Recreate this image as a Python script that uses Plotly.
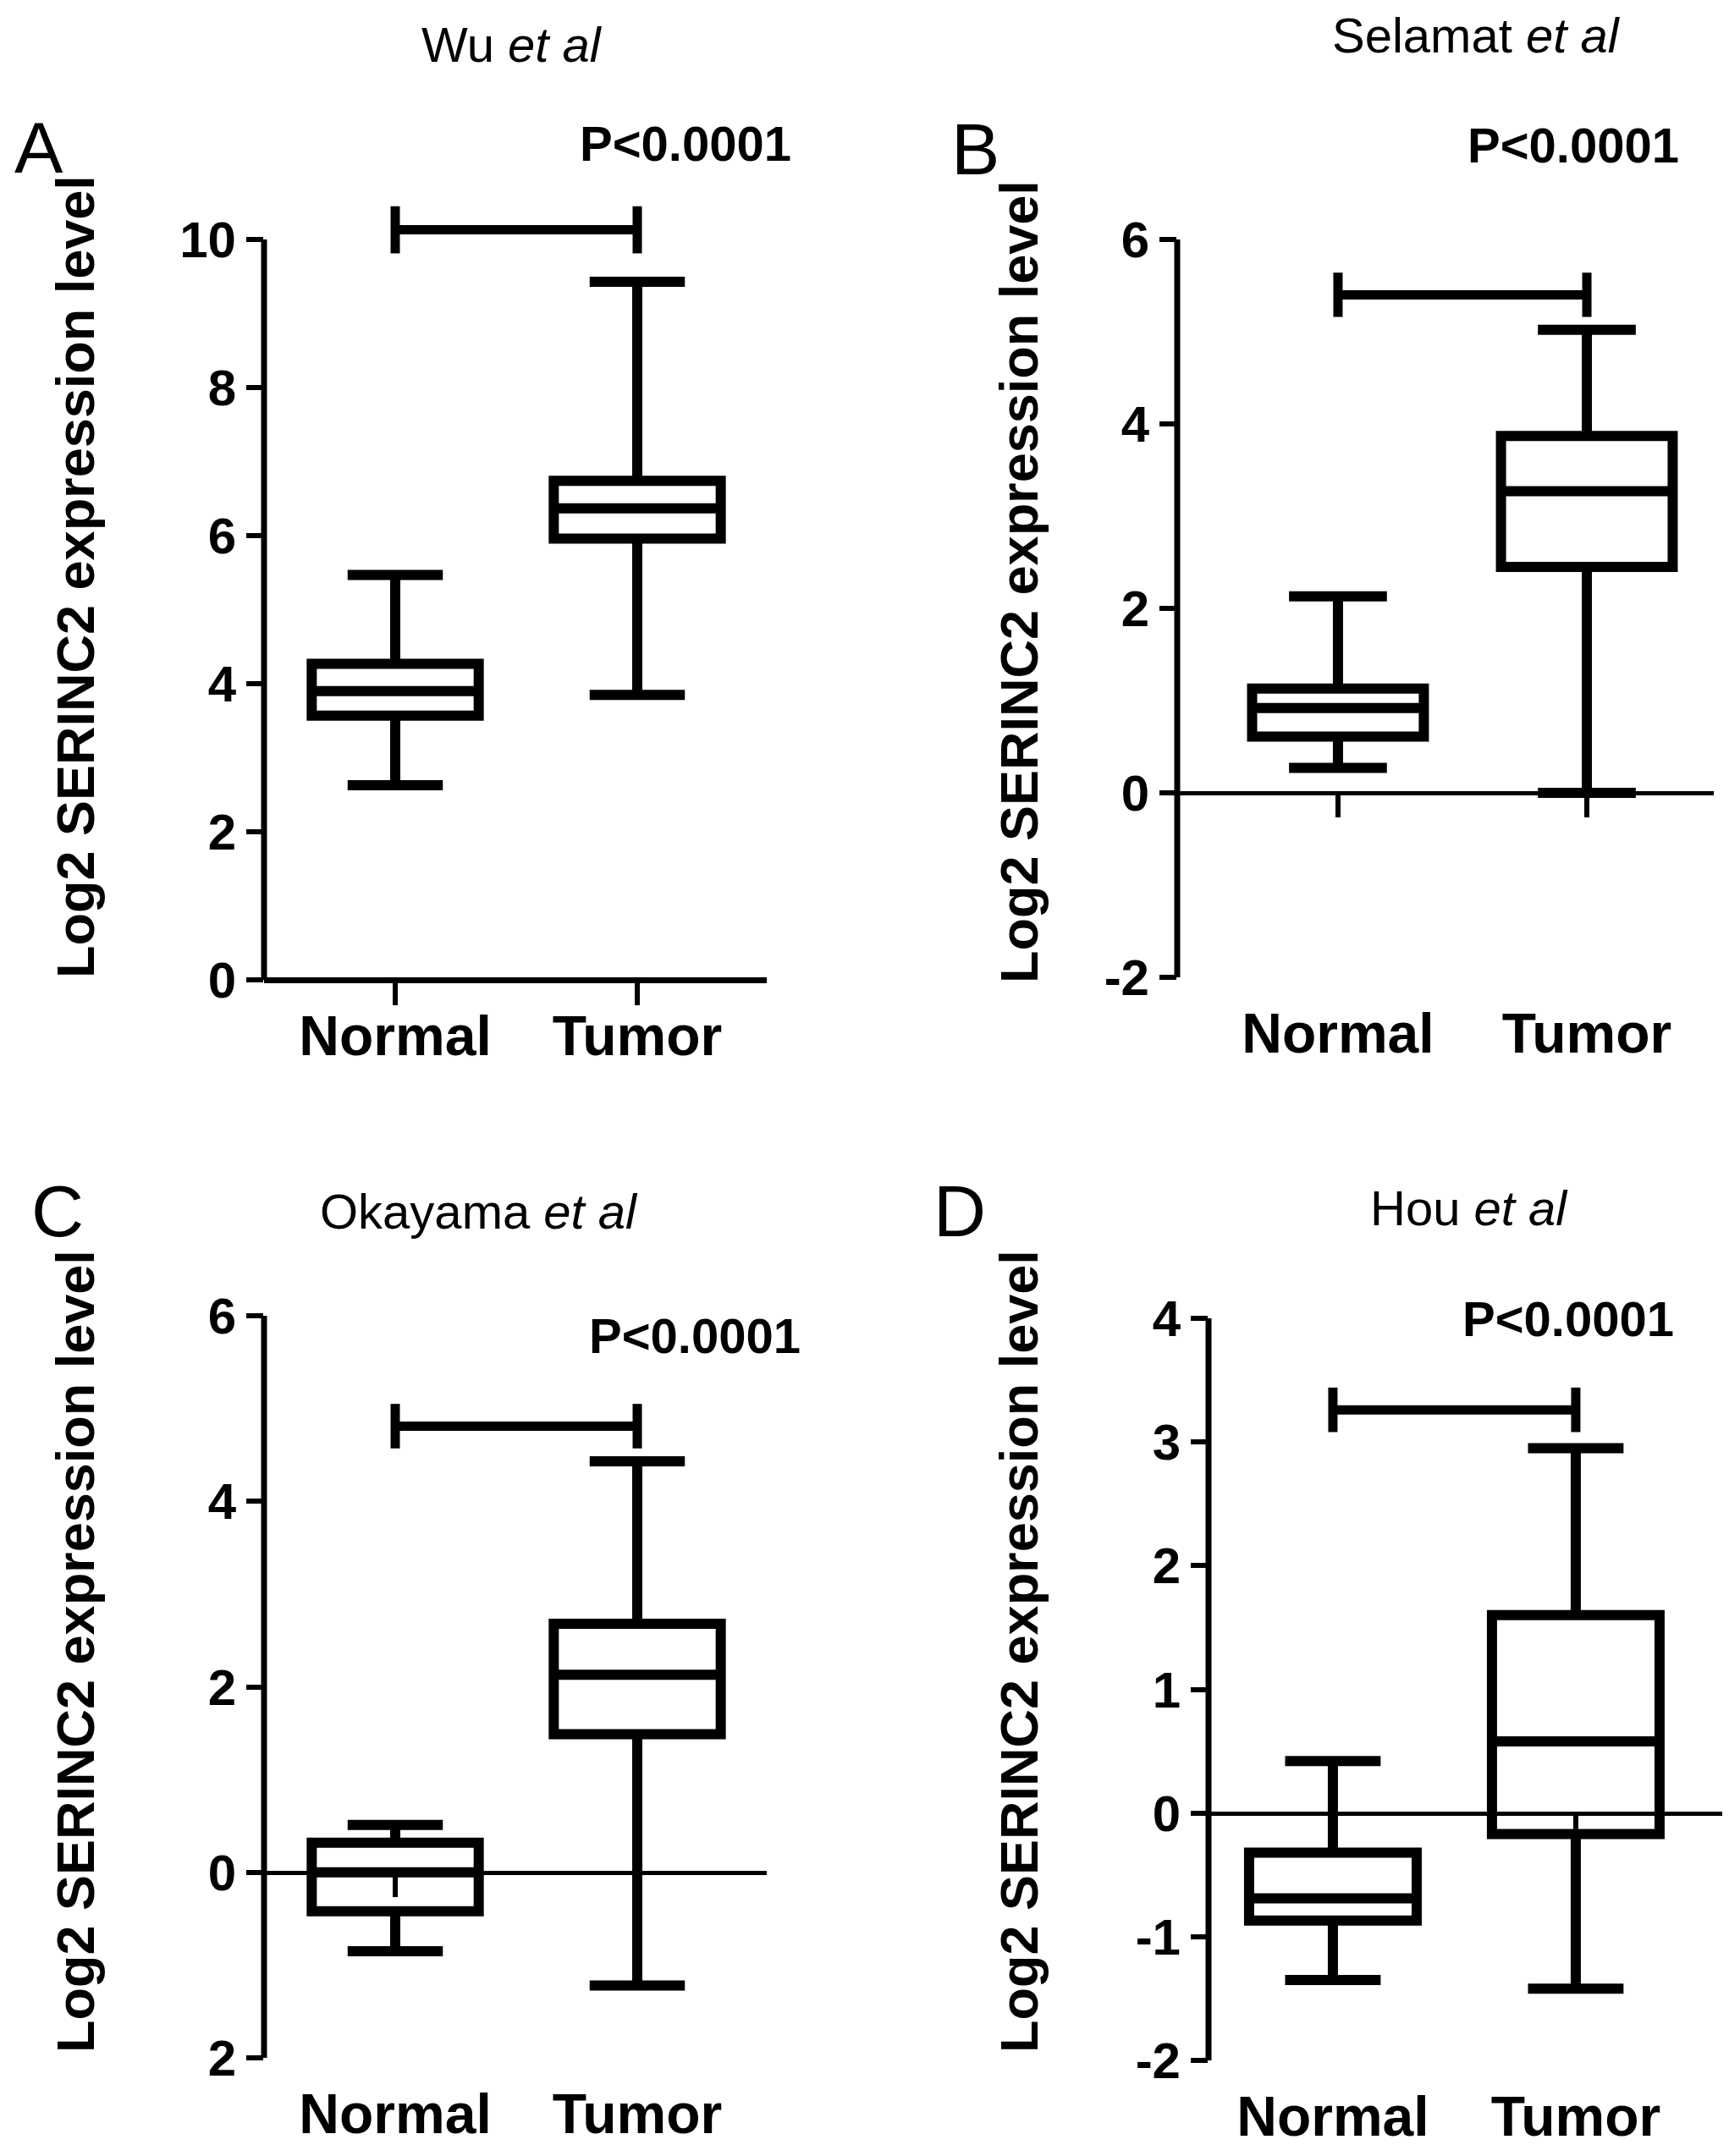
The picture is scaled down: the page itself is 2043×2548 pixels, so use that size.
import plotly.graph_objs as go

FONT = 'Arial, Liberation Sans, sans-serif'
W, H = 2043, 2548
OFF = 8   # page body margin, positions below are measured on the reference

groups = ['Normal', 'Tumor']

# A - Wu et al
a_low = [2.63, 3.85]
a_q1 = [3.57, 5.96]
a_med = [3.90, 6.37]
a_q3 = [4.27, 6.74]
a_high = [5.47, 9.43]
a_sig = 10.13
a_ticks = [0, 2, 4, 6, 8, 10]
a_ticktext = ['0', '2', '4', '6', '8', '10']

# B - Selamat et al
b_low = [0.27, 0.0]
b_q1 = [0.61, 2.45]
b_med = [0.92, 3.27]
b_q3 = [1.13, 3.87]
b_high = [2.13, 5.02]
b_sig = 5.40
b_ticks = [-2, 0, 2, 4, 6]
b_ticktext = ['-2', '0', '2', '4', '6']

# C - Okayama et al
c_low = [-0.85, -1.22]
c_q1 = [-0.42, 1.49]
c_med = [0.0, 2.13]
c_q3 = [0.32, 2.68]
c_high = [0.51, 4.43]
c_sig = 4.81
c_ticks = [-2, 0, 2, 4, 6]
c_ticktext = ['2', '0', '2', '4', '6']   # minus sign missing in the original

# D - Hou et al
d_low = [-1.35, -1.42]
d_q1 = [-0.87, -0.17]
d_med = [-0.69, 0.58]
d_q3 = [-0.32, 1.60]
d_high = [0.42, 2.95]
d_sig = 3.26
d_ticks = [-2, -1, 0, 1, 2, 3, 4]
d_ticktext = ['-2', '-1', '0', '1', '2', '3', '4']

letters = ['A', 'B', 'C', 'D']
titles = ['Wu <i>et al</i>', 'Selamat <i>et al</i>', 'Okayama <i>et al</i>', 'Hou <i>et al</i>']
pvals = ['P<0.0001'] * 4
ylabel = 'Log2 SERINC2 expression level'

panels = [
    dict(low=a_low, q1=a_q1, med=a_med, q3=a_q3, high=a_high, sig=a_sig, ticks=a_ticks, ticktext=a_ticktext,
         yrange=[0, 10.6], xrange=[-0.542, 1.535], xdom=[312, 906], ydom=[1158, 230.5], zw=7,
         letter=(46, 174), title=(605, 52), p=(810, 169), ylab=(89, 682)),
    dict(low=b_low, q1=b_q1, med=b_med, q3=b_q3, high=b_high, sig=b_sig, ticks=b_ticks, ticktext=b_ticktext,
         yrange=[-2, 6], xrange=[-0.646, 1.51], xdom=[1391, 2025], ydom=[1155, 283], zw=5,
         letter=(1152, 176), title=(1744, 41), p=(1859, 172), ylab=(1204, 688)),
    dict(low=c_low, q1=c_q1, med=c_med, q3=c_q3, high=c_high, sig=c_sig, ticks=c_ticks, ticktext=c_ticktext,
         yrange=[-2, 6], xrange=[-0.542, 1.535], xdom=[312, 906], ydom=[2432, 1555], zw=5,
         letter=(68, 1431), title=(566, 1431), p=(821, 1578), ylab=(89, 1952)),
    dict(low=d_low, q1=d_q1, med=d_med, q3=d_q3, high=d_high, sig=d_sig, ticks=d_ticks, ticktext=d_ticktext,
         yrange=[-2, 4], xrange=[-0.512, 1.61], xdom=[1428, 2037], ydom=[2435, 1558], zw=5,
         letter=(1134, 1431), title=(1736, 1427), p=(1853, 1558), ylab=(1204, 1952)),
]


def px(v):
    return (v - OFF) / W


def py(v):
    return 1 - (v - OFF) / H


data = []
layout = go.Layout(width=W, height=H, margin=dict(l=0, r=0, t=0, b=0, pad=0),
                   plot_bgcolor='white', paper_bgcolor='white', showlegend=False)
annotations = []
shapes = []


def note(text, pos, size, angle=0):
    return dict(text=text, x=px(pos[0]), y=py(pos[1]), xref='paper', yref='paper',
                xanchor='center', yanchor='middle', showarrow=False, textangle=angle,
                font=dict(family=FONT, size=size, color='black'))


for i, pn in enumerate(panels):
    n = i + 1
    xa = 'x' if n == 1 else 'x%d' % n
    ya = 'y' if n == 1 else 'y%d' % n
    za = 'x%d' % (n + 4)
    xdom = [px(pn['xdom'][0]), px(pn['xdom'][1])]
    ydom = [py(pn['ydom'][0]), py(pn['ydom'][1])]
    r0, r1 = pn['yrange']
    zero_pos = ydom[0] + (0 - r0) / (r1 - r0) * (ydom[1] - ydom[0])

    data.append(go.Box(x=groups, q1=pn['q1'], median=pn['med'], q3=pn['q3'],
                       lowerfence=pn['low'], upperfence=pn['high'],
                       xaxis=xa, yaxis=ya, line=dict(color='black', width=12), fillcolor='white',
                       width=0.69, whiskerwidth=0.57, boxpoints=False, hoverinfo='skip'))
    # significance bracket
    cap = 0.03 * (r1 - r0)
    s = pn['sig']
    data.append(go.Scatter(x=[groups[0], groups[0], None, groups[0], groups[1], None, groups[1], groups[1]],
                           y=[s - cap, s + cap, None, s, s, None, s - cap, s + cap],
                           mode='lines', line=dict(color='black', width=11),
                           xaxis=xa, yaxis=ya, hoverinfo='skip'))
    # invisible trace so the zero-line axis is drawn
    data.append(go.Scatter(x=groups, y=[0, 0], mode='markers', marker=dict(opacity=0),
                           xaxis=za, yaxis=ya, hoverinfo='skip'))

    layout['xaxis' + ('' if n == 1 else str(n))] = dict(
        domain=xdom, anchor=ya, range=pn['xrange'], type='category', categoryarray=groups,
        showline=False, showgrid=False, zeroline=False, ticks='', ticklen=0,
        ticklabelstandoff=22, automargin=False,
        tickfont=dict(family=FONT, size=66, color='black', weight='bold'))
    layout['xaxis%d' % (n + 4)] = dict(
        domain=xdom, anchor='free', position=zero_pos, overlaying=xa, range=pn['xrange'],
        type='category', categoryarray=groups, showline=True, linecolor='black', linewidth=pn['zw'],
        ticks='outside', ticklen=26, tickwidth=6, tickcolor='black', showticklabels=False,
        showgrid=False, zeroline=False, automargin=False)
    layout['yaxis' + ('' if n == 1 else str(n))] = dict(
        domain=ydom, anchor=xa, range=pn['yrange'], showline=False, showgrid=False, zeroline=False,
        tickvals=pn['ticks'], ticktext=pn['ticktext'], ticks='outside', ticklen=20, tickwidth=6,
        tickcolor='black', automargin=False,
        tickfont=dict(family=FONT, size=60, color='black', weight='bold'))
    # y axis line from lowest to highest tick
    shapes.append(dict(type='line', xref='paper', yref=ya, x0=xdom[0], x1=xdom[0],
                       y0=min(pn['ticks']), y1=max(pn['ticks']),
                       line=dict(color='black', width=7)))

    annotations.append(note(letters[i], pn['letter'], 86))
    annotations.append(note(titles[i], pn['title'], 58))
    annotations.append(note('<b>' + pvals[i].replace('<', '&lt;') + '</b>', pn['p'], 58))
    annotations.append(note('<b>' + ylabel + '</b>', pn['ylab'], 63, -90))

layout['annotations'] = annotations
layout['shapes'] = shapes

fig = go.Figure(data=data, layout=layout)
fig.write_html('out.html')
